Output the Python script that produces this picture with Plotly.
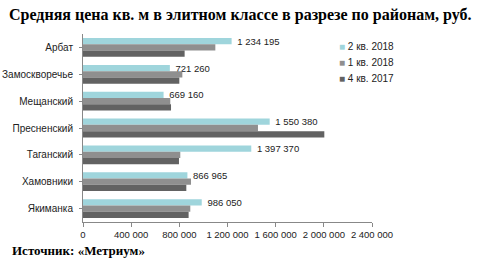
import plotly.graph_objects as go

categories = ["Арбат", "Замоскворечье", "Мещанский", "Пресненский", "Таганский", "Хамовники", "Якиманка"]
series_names = ["2 кв. 2018", "1 кв. 2018", "4 кв. 2017"]
q2_2018 = [1234195, 721260, 669160, 1550380, 1397370, 866965, 986050]
q1_2018 = [1099000, 825000, 725000, 1453000, 808000, 897000, 891000]
q4_2017 = [844000, 800000, 731000, 2004000, 797000, 858000, 877000]
colors = ["#9fd5dc", "#8f8f8f", "#626262"]
x_ticks = [0, 400000, 800000, 1200000, 1600000, 2000000, 2400000]

fig = go.Figure()
for name, vals, col, lab in zip(series_names, [q2_2018, q1_2018, q4_2017], colors, [True, False, False]):
    fig.add_trace(go.Bar(
        y=categories, x=vals, name=name, orientation="h",
        marker=dict(color=col, line=dict(width=0)),
        texttemplate=" %{x:,d}" if lab else None,
        textposition="outside" if lab else "none",
        constraintext="none",
        textfont=dict(family="Liberation Sans, Arial", size=9.5, color="#222"),
        cliponaxis=False,
    ))

fig.update_layout(
    width=481, height=260,
    margin=dict(l=83, r=109, t=34, b=38),
    paper_bgcolor="white", plot_bgcolor="white",
    barmode="group", bargap=0.3, bargroupgap=0,
    separators=". ",
    showlegend=False,
    font=dict(family="Liberation Sans, Arial", size=10, color="#222"),
)
fig.update_xaxes(range=[0, 2400000], tickvals=x_ticks, tickformat=",d", tickangle=0,
                 automargin=False,
                 showgrid=False, zeroline=False, showline=True, linecolor="#888", linewidth=1,
                 ticks="outside", ticklen=4, tickcolor="#888",
                 tickfont=dict(family="Liberation Sans, Arial", size=9.5, color="#222"))
fig.update_yaxes(autorange="reversed", automargin=False, showgrid=False, showline=True, linecolor="#888",
                 ticks="outside", ticklen=3, tickcolor="#888", ticklabelstandoff=4,
                 tickfont=dict(family="Liberation Sans, Arial", size=10, color="#222"))

# legend drawn as annotations (small square markers next to text)
for i, (name, col) in enumerate(zip(series_names, colors)):
    fig.add_annotation(text=f"<span style='color:{col}'>■</span> {name}",
                       xref="paper", yref="paper", x=0.88, y=0.935 - i * 0.085,
                       xanchor="left", yanchor="middle", showarrow=False,
                       font=dict(family="Liberation Sans, Arial", size=10, color="#222"))

fig.add_annotation(text="<b>Средняя цена кв. м в элитном классе в разрезе по районам, руб.</b>",
                   xref="paper", yref="paper", x=0.5, y=1, xanchor="center", yanchor="bottom",
                   xshift=240.5 - (83 + 289 / 2), yshift=8,
                   showarrow=False,
                   font=dict(family="Liberation Serif, Times New Roman", size=16, color="black"))
fig.add_annotation(text="<b>Источник: «Метриум»</b>",
                   xref="paper", yref="paper", x=0, y=0, xanchor="left", yanchor="top",
                   xshift=-73, yshift=-19, showarrow=False,
                   font=dict(family="Liberation Serif, Times New Roman", size=13, color="black"))

fig.write_html("out.html")
